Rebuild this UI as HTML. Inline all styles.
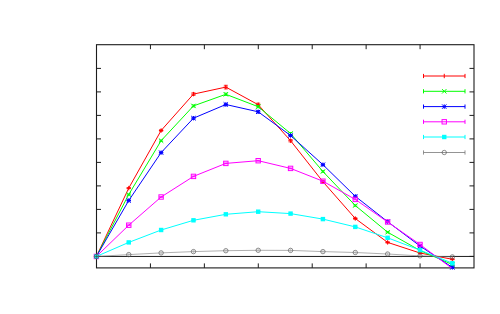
<!DOCTYPE html>
<html><head><meta charset="utf-8"><title>plot</title>
<style>html,body{margin:0;padding:0;background:#fff;font-family:"Liberation Sans",sans-serif;}svg{display:block}</style>
</head><body>
<svg width="500" height="314" viewBox="0 0 500 314">
<rect width="500" height="314" fill="#fff"/>
<clipPath id="c"><rect x="95.5" y="44.7" width="379.5" height="223.6"/></clipPath>
<rect x="96.5" y="44.7" width="377.5" height="223.2" stroke="#1c1c1c" stroke-width="1.1" fill="none"/>
<path d="M150.43,267.9v-4.5M150.43,44.7v4.5M204.36,267.9v-4.5M204.36,44.7v4.5M258.29,267.9v-4.5M258.29,44.7v4.5M312.21,267.9v-4.5M312.21,44.7v4.5M366.14,267.9v-4.5M366.14,44.7v4.5M420.07,267.9v-4.5M420.07,44.7v4.5M96.5,256.4h4.5M474.0,256.4h-4.5M96.5,232.9h4.5M474.0,232.9h-4.5M96.5,209.4h4.5M474.0,209.4h-4.5M96.5,185.9h4.5M474.0,185.9h-4.5M96.5,162.4h4.5M474.0,162.4h-4.5M96.5,138.9h4.5M474.0,138.9h-4.5M96.5,115.4h4.5M474.0,115.4h-4.5M96.5,91.9h4.5M474.0,91.9h-4.5M96.5,68.4h4.5M474.0,68.4h-4.5" stroke="#1c1c1c" stroke-width="1" fill="none"/>
<path d="M96.5,256.45H474.0" stroke="#1c1c1c" stroke-width="1" fill="none"/>
<g><polyline clip-path="url(#c)" points="96.4,256.45 128.76,188.1 161.12,130.5 193.48,94.1 225.84,87.1 258.2,104.7 290.56,140.7 322.92,181.7 355.28,218.5 387.64,242.4 420,253 452.36,259.3" stroke="#ff0000" stroke-width="1.0" fill="none" stroke-linejoin="round"/>
<path d="M94.2,256.45H98.6M96.4,254.25V258.65" stroke="#ff0000" stroke-width="1" fill="none"/>
<path d="M128.76,187.6V188.6M126.76,187.6H130.76M126.76,188.6H130.76" stroke="#ff0000" stroke-width="0.8" fill="none"/>
<path d="M126.56,188.1H130.96M128.76,185.9V190.3" stroke="#ff0000" stroke-width="1" fill="none"/>
<path d="M161.12,129.7V131.3M159.12,129.7H163.12M159.12,131.3H163.12" stroke="#ff0000" stroke-width="0.8" fill="none"/>
<path d="M158.92,130.5H163.32M161.12,128.3V132.7" stroke="#ff0000" stroke-width="1" fill="none"/>
<path d="M193.48,92.8V95.4M191.48,92.8H195.48M191.48,95.4H195.48" stroke="#ff0000" stroke-width="0.8" fill="none"/>
<path d="M191.28,94.1H195.68M193.48,91.9V96.3" stroke="#ff0000" stroke-width="1" fill="none"/>
<path d="M225.84,85.3V88.9M223.84,85.3H227.84M223.84,88.9H227.84" stroke="#ff0000" stroke-width="0.8" fill="none"/>
<path d="M223.64,87.1H228.04M225.84,84.9V89.3" stroke="#ff0000" stroke-width="1" fill="none"/>
<path d="M258.2,103.2V106.2M256.2,103.2H260.2M256.2,106.2H260.2" stroke="#ff0000" stroke-width="0.8" fill="none"/>
<path d="M256,104.7H260.4M258.2,102.5V106.9" stroke="#ff0000" stroke-width="1" fill="none"/>
<path d="M290.56,139.5V141.9M288.56,139.5H292.56M288.56,141.9H292.56" stroke="#ff0000" stroke-width="0.8" fill="none"/>
<path d="M288.36,140.7H292.76M290.56,138.5V142.9" stroke="#ff0000" stroke-width="1" fill="none"/>
<path d="M322.92,180.7V182.7M320.92,180.7H324.92M320.92,182.7H324.92" stroke="#ff0000" stroke-width="0.8" fill="none"/>
<path d="M320.72,181.7H325.12M322.92,179.5V183.9" stroke="#ff0000" stroke-width="1" fill="none"/>
<path d="M355.28,217.7V219.3M353.28,217.7H357.28M353.28,219.3H357.28" stroke="#ff0000" stroke-width="0.8" fill="none"/>
<path d="M353.08,218.5H357.48M355.28,216.3V220.7" stroke="#ff0000" stroke-width="1" fill="none"/>
<path d="M387.64,241.7V243.1M385.64,241.7H389.64M385.64,243.1H389.64" stroke="#ff0000" stroke-width="0.8" fill="none"/>
<path d="M385.44,242.4H389.84M387.64,240.2V244.6" stroke="#ff0000" stroke-width="1" fill="none"/>
<path d="M420,252.5V253.5M418,252.5H422M418,253.5H422" stroke="#ff0000" stroke-width="0.8" fill="none"/>
<path d="M417.8,253H422.2M420,250.8V255.2" stroke="#ff0000" stroke-width="1" fill="none"/>
<path d="M452.36,258.8V259.8M450.36,258.8H454.36M450.36,259.8H454.36" stroke="#ff0000" stroke-width="0.8" fill="none"/>
<path d="M450.16,259.3H454.56M452.36,257.1V261.5" stroke="#ff0000" stroke-width="1" fill="none"/>
</g>
<g><polyline clip-path="url(#c)" points="96.4,256.45 128.76,194.5 161.12,140.7 193.48,105.9 225.84,94.3 258.2,106.7 290.56,133.5 322.92,171.5 355.28,205.5 387.64,232.2 420,250.5 452.36,264.5" stroke="#00ff00" stroke-width="1.0" fill="none" stroke-linejoin="round"/>
<path d="M94.2,254.25L98.6,258.65M94.2,258.65L98.6,254.25" stroke="#00ff00" stroke-width="1" fill="none"/>
<path d="M128.76,194V195M126.76,194H130.76M126.76,195H130.76" stroke="#00ff00" stroke-width="0.8" fill="none"/>
<path d="M126.56,192.3L130.96,196.7M126.56,196.7L130.96,192.3" stroke="#00ff00" stroke-width="1" fill="none"/>
<path d="M161.12,140V141.4M159.12,140H163.12M159.12,141.4H163.12" stroke="#00ff00" stroke-width="0.8" fill="none"/>
<path d="M158.92,138.5L163.32,142.9M158.92,142.9L163.32,138.5" stroke="#00ff00" stroke-width="1" fill="none"/>
<path d="M193.48,104.9V106.9M191.48,104.9H195.48M191.48,106.9H195.48" stroke="#00ff00" stroke-width="0.8" fill="none"/>
<path d="M191.28,103.7L195.68,108.1M191.28,108.1L195.68,103.7" stroke="#00ff00" stroke-width="1" fill="none"/>
<path d="M225.84,93.1V95.5M223.84,93.1H227.84M223.84,95.5H227.84" stroke="#00ff00" stroke-width="0.8" fill="none"/>
<path d="M223.64,92.1L228.04,96.5M223.64,96.5L228.04,92.1" stroke="#00ff00" stroke-width="1" fill="none"/>
<path d="M258.2,105.6V107.8M256.2,105.6H260.2M256.2,107.8H260.2" stroke="#00ff00" stroke-width="0.8" fill="none"/>
<path d="M256,104.5L260.4,108.9M256,108.9L260.4,104.5" stroke="#00ff00" stroke-width="1" fill="none"/>
<path d="M290.56,132.5V134.5M288.56,132.5H292.56M288.56,134.5H292.56" stroke="#00ff00" stroke-width="0.8" fill="none"/>
<path d="M288.36,131.3L292.76,135.7M288.36,135.7L292.76,131.3" stroke="#00ff00" stroke-width="1" fill="none"/>
<path d="M322.92,170.7V172.3M320.92,170.7H324.92M320.92,172.3H324.92" stroke="#00ff00" stroke-width="0.8" fill="none"/>
<path d="M320.72,169.3L325.12,173.7M320.72,173.7L325.12,169.3" stroke="#00ff00" stroke-width="1" fill="none"/>
<path d="M355.28,204.8V206.2M353.28,204.8H357.28M353.28,206.2H357.28" stroke="#00ff00" stroke-width="0.8" fill="none"/>
<path d="M353.08,203.3L357.48,207.7M353.08,207.7L357.48,203.3" stroke="#00ff00" stroke-width="1" fill="none"/>
<path d="M387.64,231.6V232.8M385.64,231.6H389.64M385.64,232.8H389.64" stroke="#00ff00" stroke-width="0.8" fill="none"/>
<path d="M385.44,230L389.84,234.4M385.44,234.4L389.84,230" stroke="#00ff00" stroke-width="1" fill="none"/>
<path d="M420,250V251M418,250H422M418,251H422" stroke="#00ff00" stroke-width="0.8" fill="none"/>
<path d="M417.8,248.3L422.2,252.7M417.8,252.7L422.2,248.3" stroke="#00ff00" stroke-width="1" fill="none"/>
<path d="M452.36,264V265M450.36,264H454.36M450.36,265H454.36" stroke="#00ff00" stroke-width="0.8" fill="none"/>
<path d="M450.16,262.3L454.56,266.7M450.16,266.7L454.56,262.3" stroke="#00ff00" stroke-width="1" fill="none"/>
</g>
<g><polyline clip-path="url(#c)" points="96.4,256.45 128.76,200.5 161.12,152.6 193.48,118.2 225.84,104.5 258.2,111.8 290.56,135.5 322.92,164.7 355.28,196.3 387.64,221.7 420,246 452.36,267.4" stroke="#0000ff" stroke-width="1.0" fill="none" stroke-linejoin="round"/>
<path d="M94.2,254.25L98.6,258.65M94.2,258.65L98.6,254.25M94.2,256.45H98.6M96.4,254.25V258.65" stroke="#0000ff" stroke-width="1" fill="none"/>
<path d="M128.76,200V201M126.76,200H130.76M126.76,201H130.76" stroke="#0000ff" stroke-width="0.8" fill="none"/>
<path d="M126.56,198.3L130.96,202.7M126.56,202.7L130.96,198.3M126.56,200.5H130.96M128.76,198.3V202.7" stroke="#0000ff" stroke-width="1" fill="none"/>
<path d="M161.12,151.9V153.3M159.12,151.9H163.12M159.12,153.3H163.12" stroke="#0000ff" stroke-width="0.8" fill="none"/>
<path d="M158.92,150.4L163.32,154.8M158.92,154.8L163.32,150.4M158.92,152.6H163.32M161.12,150.4V154.8" stroke="#0000ff" stroke-width="1" fill="none"/>
<path d="M193.48,117.2V119.2M191.48,117.2H195.48M191.48,119.2H195.48" stroke="#0000ff" stroke-width="0.8" fill="none"/>
<path d="M191.28,116L195.68,120.4M191.28,120.4L195.68,116M191.28,118.2H195.68M193.48,116V120.4" stroke="#0000ff" stroke-width="1" fill="none"/>
<path d="M225.84,103.3V105.7M223.84,103.3H227.84M223.84,105.7H227.84" stroke="#0000ff" stroke-width="0.8" fill="none"/>
<path d="M223.64,102.3L228.04,106.7M223.64,106.7L228.04,102.3M223.64,104.5H228.04M225.84,102.3V106.7" stroke="#0000ff" stroke-width="1" fill="none"/>
<path d="M258.2,110.7V112.9M256.2,110.7H260.2M256.2,112.9H260.2" stroke="#0000ff" stroke-width="0.8" fill="none"/>
<path d="M256,109.6L260.4,114M256,114L260.4,109.6M256,111.8H260.4M258.2,109.6V114" stroke="#0000ff" stroke-width="1" fill="none"/>
<path d="M290.56,134.5V136.5M288.56,134.5H292.56M288.56,136.5H292.56" stroke="#0000ff" stroke-width="0.8" fill="none"/>
<path d="M288.36,133.3L292.76,137.7M288.36,137.7L292.76,133.3M288.36,135.5H292.76M290.56,133.3V137.7" stroke="#0000ff" stroke-width="1" fill="none"/>
<path d="M322.92,163.9V165.5M320.92,163.9H324.92M320.92,165.5H324.92" stroke="#0000ff" stroke-width="0.8" fill="none"/>
<path d="M320.72,162.5L325.12,166.9M320.72,166.9L325.12,162.5M320.72,164.7H325.12M322.92,162.5V166.9" stroke="#0000ff" stroke-width="1" fill="none"/>
<path d="M355.28,195.6V197M353.28,195.6H357.28M353.28,197H357.28" stroke="#0000ff" stroke-width="0.8" fill="none"/>
<path d="M353.08,194.1L357.48,198.5M353.08,198.5L357.48,194.1M353.08,196.3H357.48M355.28,194.1V198.5" stroke="#0000ff" stroke-width="1" fill="none"/>
<path d="M387.64,221.1V222.3M385.64,221.1H389.64M385.64,222.3H389.64" stroke="#0000ff" stroke-width="0.8" fill="none"/>
<path d="M385.44,219.5L389.84,223.9M385.44,223.9L389.84,219.5M385.44,221.7H389.84M387.64,219.5V223.9" stroke="#0000ff" stroke-width="1" fill="none"/>
<path d="M420,245.5V246.5M418,245.5H422M418,246.5H422" stroke="#0000ff" stroke-width="0.8" fill="none"/>
<path d="M417.8,243.8L422.2,248.2M417.8,248.2L422.2,243.8M417.8,246H422.2M420,243.8V248.2" stroke="#0000ff" stroke-width="1" fill="none"/>
<path d="M452.36,266.9V267.9M450.36,266.9H454.36M450.36,267.9H454.36" stroke="#0000ff" stroke-width="0.8" fill="none"/>
<path d="M450.16,265.2L454.56,269.6M450.16,269.6L454.56,265.2M450.16,267.4H454.56M452.36,265.2V269.6" stroke="#0000ff" stroke-width="1" fill="none"/>
</g>
<g><polyline clip-path="url(#c)" points="96.4,256.45 128.76,225.2 161.12,197 193.48,176.4 225.84,163.4 258.2,160.7 290.56,168.4 322.92,181.2 355.28,199.4 387.64,222 420,244.5 452.36,268.7" stroke="#ff00ff" stroke-width="1.0" fill="none" stroke-linejoin="round"/>
<rect x="94.2" y="254.25" width="4.4" height="4.4" stroke="#ff00ff" stroke-width="1" fill="none"/>
<path d="M128.76,224.8V225.6M126.76,224.8H130.76M126.76,225.6H130.76" stroke="#ff00ff" stroke-width="0.8" fill="none"/>
<rect x="126.56" y="223" width="4.4" height="4.4" stroke="#ff00ff" stroke-width="1" fill="none"/>
<path d="M161.12,196.6V197.4M159.12,196.6H163.12M159.12,197.4H163.12" stroke="#ff00ff" stroke-width="0.8" fill="none"/>
<rect x="158.92" y="194.8" width="4.4" height="4.4" stroke="#ff00ff" stroke-width="1" fill="none"/>
<path d="M193.48,176V176.8M191.48,176H195.48M191.48,176.8H195.48" stroke="#ff00ff" stroke-width="0.8" fill="none"/>
<rect x="191.28" y="174.2" width="4.4" height="4.4" stroke="#ff00ff" stroke-width="1" fill="none"/>
<path d="M225.84,163V163.8M223.84,163H227.84M223.84,163.8H227.84" stroke="#ff00ff" stroke-width="0.8" fill="none"/>
<rect x="223.64" y="161.2" width="4.4" height="4.4" stroke="#ff00ff" stroke-width="1" fill="none"/>
<path d="M258.2,160.3V161.1M256.2,160.3H260.2M256.2,161.1H260.2" stroke="#ff00ff" stroke-width="0.8" fill="none"/>
<rect x="256" y="158.5" width="4.4" height="4.4" stroke="#ff00ff" stroke-width="1" fill="none"/>
<path d="M290.56,168V168.8M288.56,168H292.56M288.56,168.8H292.56" stroke="#ff00ff" stroke-width="0.8" fill="none"/>
<rect x="288.36" y="166.2" width="4.4" height="4.4" stroke="#ff00ff" stroke-width="1" fill="none"/>
<path d="M322.92,180.8V181.6M320.92,180.8H324.92M320.92,181.6H324.92" stroke="#ff00ff" stroke-width="0.8" fill="none"/>
<rect x="320.72" y="179" width="4.4" height="4.4" stroke="#ff00ff" stroke-width="1" fill="none"/>
<path d="M355.28,199V199.8M353.28,199H357.28M353.28,199.8H357.28" stroke="#ff00ff" stroke-width="0.8" fill="none"/>
<rect x="353.08" y="197.2" width="4.4" height="4.4" stroke="#ff00ff" stroke-width="1" fill="none"/>
<path d="M387.64,221.6V222.4M385.64,221.6H389.64M385.64,222.4H389.64" stroke="#ff00ff" stroke-width="0.8" fill="none"/>
<rect x="385.44" y="219.8" width="4.4" height="4.4" stroke="#ff00ff" stroke-width="1" fill="none"/>
<path d="M420,244.1V244.9M418,244.1H422M418,244.9H422" stroke="#ff00ff" stroke-width="0.8" fill="none"/>
<rect x="417.8" y="242.3" width="4.4" height="4.4" stroke="#ff00ff" stroke-width="1" fill="none"/>
</g>
<g><polyline clip-path="url(#c)" points="96.4,256.45 128.76,242.4 161.12,230 193.48,220.3 225.84,214.3 258.2,211.7 290.56,213.6 322.92,219.1 355.28,226.9 387.64,237.8 420,250.1 452.36,263.2" stroke="#00ffff" stroke-width="1.0" fill="none" stroke-linejoin="round"/>
<rect x="94.2" y="254.25" width="4.4" height="4.4" fill="#00ffff"/>
<path d="M128.76,242.1V242.7M126.76,242.1H130.76M126.76,242.7H130.76" stroke="#00ffff" stroke-width="0.8" fill="none"/>
<rect x="126.56" y="240.2" width="4.4" height="4.4" fill="#00ffff"/>
<path d="M161.12,229.7V230.3M159.12,229.7H163.12M159.12,230.3H163.12" stroke="#00ffff" stroke-width="0.8" fill="none"/>
<rect x="158.92" y="227.8" width="4.4" height="4.4" fill="#00ffff"/>
<path d="M193.48,220V220.6M191.48,220H195.48M191.48,220.6H195.48" stroke="#00ffff" stroke-width="0.8" fill="none"/>
<rect x="191.28" y="218.1" width="4.4" height="4.4" fill="#00ffff"/>
<path d="M225.84,214V214.6M223.84,214H227.84M223.84,214.6H227.84" stroke="#00ffff" stroke-width="0.8" fill="none"/>
<rect x="223.64" y="212.1" width="4.4" height="4.4" fill="#00ffff"/>
<path d="M258.2,211.4V212M256.2,211.4H260.2M256.2,212H260.2" stroke="#00ffff" stroke-width="0.8" fill="none"/>
<rect x="256" y="209.5" width="4.4" height="4.4" fill="#00ffff"/>
<path d="M290.56,213.3V213.9M288.56,213.3H292.56M288.56,213.9H292.56" stroke="#00ffff" stroke-width="0.8" fill="none"/>
<rect x="288.36" y="211.4" width="4.4" height="4.4" fill="#00ffff"/>
<path d="M322.92,218.8V219.4M320.92,218.8H324.92M320.92,219.4H324.92" stroke="#00ffff" stroke-width="0.8" fill="none"/>
<rect x="320.72" y="216.9" width="4.4" height="4.4" fill="#00ffff"/>
<path d="M355.28,226.6V227.2M353.28,226.6H357.28M353.28,227.2H357.28" stroke="#00ffff" stroke-width="0.8" fill="none"/>
<rect x="353.08" y="224.7" width="4.4" height="4.4" fill="#00ffff"/>
<path d="M387.64,237.5V238.1M385.64,237.5H389.64M385.64,238.1H389.64" stroke="#00ffff" stroke-width="0.8" fill="none"/>
<rect x="385.44" y="235.6" width="4.4" height="4.4" fill="#00ffff"/>
<path d="M420,249.8V250.4M418,249.8H422M418,250.4H422" stroke="#00ffff" stroke-width="0.8" fill="none"/>
<rect x="417.8" y="247.9" width="4.4" height="4.4" fill="#00ffff"/>
<path d="M452.36,262.9V263.5M450.36,262.9H454.36M450.36,263.5H454.36" stroke="#00ffff" stroke-width="0.8" fill="none"/>
<rect x="450.16" y="261" width="4.4" height="4.4" fill="#00ffff"/>
</g>
<g><polyline clip-path="url(#c)" points="96.4,256.45 128.76,254.6 161.12,252.9 193.48,251.6 225.84,250.7 258.2,250.3 290.56,250.4 322.92,251.6 355.28,252.5 387.64,254 420,255.9 452.36,256.9" stroke="#787878" stroke-width="0.6" fill="none" stroke-linejoin="round"/>
<circle cx="96.4" cy="256.45" r="2.2" stroke="#505050" stroke-width="0.65" fill="none"/>
<path d="M128.76,253V256.2" stroke="#999" stroke-width="0.5" fill="none"/>
<circle cx="128.76" cy="254.6" r="2.2" stroke="#505050" stroke-width="0.65" fill="none"/>
<path d="M161.12,251.3V254.5" stroke="#999" stroke-width="0.5" fill="none"/>
<circle cx="161.12" cy="252.9" r="2.2" stroke="#505050" stroke-width="0.65" fill="none"/>
<path d="M193.48,250V253.2" stroke="#999" stroke-width="0.5" fill="none"/>
<circle cx="193.48" cy="251.6" r="2.2" stroke="#505050" stroke-width="0.65" fill="none"/>
<path d="M225.84,249.1V252.3" stroke="#999" stroke-width="0.5" fill="none"/>
<circle cx="225.84" cy="250.7" r="2.2" stroke="#505050" stroke-width="0.65" fill="none"/>
<path d="M258.2,248.7V251.9" stroke="#999" stroke-width="0.5" fill="none"/>
<circle cx="258.2" cy="250.3" r="2.2" stroke="#505050" stroke-width="0.65" fill="none"/>
<path d="M290.56,248.8V252" stroke="#999" stroke-width="0.5" fill="none"/>
<circle cx="290.56" cy="250.4" r="2.2" stroke="#505050" stroke-width="0.65" fill="none"/>
<path d="M322.92,250V253.2" stroke="#999" stroke-width="0.5" fill="none"/>
<circle cx="322.92" cy="251.6" r="2.2" stroke="#505050" stroke-width="0.65" fill="none"/>
<path d="M355.28,250.9V254.1" stroke="#999" stroke-width="0.5" fill="none"/>
<circle cx="355.28" cy="252.5" r="2.2" stroke="#505050" stroke-width="0.65" fill="none"/>
<path d="M387.64,252.4V255.6" stroke="#999" stroke-width="0.5" fill="none"/>
<circle cx="387.64" cy="254" r="2.2" stroke="#505050" stroke-width="0.65" fill="none"/>
<path d="M420,254.3V257.5" stroke="#999" stroke-width="0.5" fill="none"/>
<circle cx="420" cy="255.9" r="2.2" stroke="#505050" stroke-width="0.65" fill="none"/>
<path d="M452.36,255.3V258.5" stroke="#999" stroke-width="0.5" fill="none"/>
<circle cx="452.36" cy="256.9" r="2.2" stroke="#505050" stroke-width="0.65" fill="none"/>
<path d="M94.4,256.45H98.4M96.4,254.45V258.45" stroke="#404040" stroke-width="0.6" fill="none"/>
</g>
<path d="M423.5,76.0H465.0M423.5,73.9V78.1M465.0,73.9V78.1" stroke="#ff0000" stroke-width="1.0" fill="none"/>
<path d="M444.25,73.8V78.2" stroke="#ff0000" stroke-width="1"/>
<path d="M423.5,91.3H465.0M423.5,89.2V93.39999999999999M465.0,89.2V93.39999999999999" stroke="#00ff00" stroke-width="1.0" fill="none"/>
<path d="M442.05,89.1L446.45,93.5M442.05,93.5L446.45,89.1" stroke="#00ff00" stroke-width="1" fill="none"/>
<path d="M423.5,106.6H465.0M423.5,104.5V108.69999999999999M465.0,104.5V108.69999999999999" stroke="#0000ff" stroke-width="1.0" fill="none"/>
<path d="M442.05,104.4L446.45,108.8M442.05,108.8L446.45,104.4M442.05,106.6H446.45M444.25,104.4V108.8" stroke="#0000ff" stroke-width="1" fill="none"/>
<path d="M423.5,121.8H465.0M423.5,119.7V123.89999999999999M465.0,119.7V123.89999999999999" stroke="#ff00ff" stroke-width="1.0" fill="none"/>
<rect x="442.05" y="119.6" width="4.4" height="4.4" stroke="#ff00ff" stroke-width="1" fill="none"/>
<path d="M423.5,137.0H465.0M423.5,134.9V139.1M465.0,134.9V139.1" stroke="#00ffff" stroke-width="1.0" fill="none"/>
<rect x="442.05" y="134.8" width="4.4" height="4.4" fill="#00ffff"/>
<path d="M423.5,152.5H465.0M423.5,150.4V154.6M465.0,150.4V154.6" stroke="#787878" stroke-width="0.8" fill="none"/>
<circle cx="444.25" cy="152.5" r="2.2" stroke="#505050" stroke-width="0.65" fill="none"/>
</svg>
</body></html>
